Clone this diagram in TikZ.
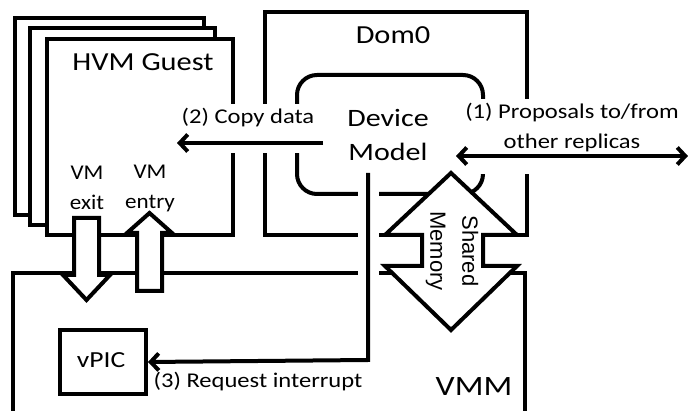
\documentclass[tikz,border=0pt]{standalone}
\usepackage{fontspec}
\setmainfont{Carlito}
\newfontfamily\arialf{Liberation Sans}
\usetikzlibrary{arrows.meta}
\begin{document}
\begin{tikzpicture}[x=1pt,y=-1pt,line width=4pt,line join=miter,
  box/.style={draw,fill=white,inner sep=0pt,anchor=north west},
  blockarrow/.style={draw,fill=white,line join=miter},
  halo/.style={draw=white,line cap=butt},
  tip/.tip={Straight Barb[length=8pt,width=17pt,line width=4pt]},
  barb/.style={-tip},
  dbarb/.style={tip-tip},
  big/.style={font=\fontsize{26}{30}\selectfont,inner sep=0pt,xscale=1.17},
  mid/.style={font=\fontsize{25}{34}\selectfont,align=center,inner sep=0pt,xscale=1.2},
  small/.style={font=\fontsize{21}{30}\selectfont,align=center,inner sep=0pt,xscale=1.17},
  whitelbl/.style={small,fill=white,inner sep=5pt}]
\useasboundingbox (0,0) rectangle (688,411);
\begin{scope}
\clip (0,0) rectangle (688,411);
% HVM guest stack
\node[box,minimum width=189,minimum height=197] (g3) at (13,16) {};
\node[box,minimum width=185,minimum height=197] (g2) at (28,26) {};
\node[box,minimum width=186,minimum height=196] (g1) at (45,37) {};
% Dom0
\node[box,fill=none,minimum width=262,minimum height=223] (dom0) at (263,10) {};
% Device model
\node[box,fill=none,rounded corners=20pt,minimum width=186,minimum height=119] (dm) at (295,73) {};
% VMM (open at the bottom)
\coordinate (vmmbl) at (13,430);
\coordinate (vmmtl) at (13,273);
\coordinate (vmmtr) at (525,273);
\coordinate (vmmbr) at (525,430);
\draw (vmmbl) -- (vmmtl) -- (vmmtr) -- (vmmbr);
% vPIC
\node[box,minimum width=86,minimum height=64] (vpic) at (58,328) {};
% gaps
\coordinate (h2a) at (190,141);
\coordinate (h2b) at (323,141);
\draw[halo,line width=24pt] (h2a) -- (h2b);
\coordinate (h3a) at (368,180);
\coordinate (h3b) at (368,292);
\draw[halo,line width=21pt] (h3a) -- (h3b);
\coordinate (h1a) at (470,156);
\coordinate (h1b) at (540,156);
\draw[halo,line width=36pt] (h1a) -- (h1b);
\node[whitelbl] (l2) at (248,118) {(2) Copy data};
\node[whitelbl] (l1) at (572,128) {(1) Proposals to/from\\other replicas};
% connectors
\coordinate (c2s) at (323,143);
\coordinate (c2e) at (177,143);
\draw[barb] (c2s) -- (c2e);
\coordinate (c1s) at (456,156);
\coordinate (c1e) at (688,156);
\draw[dbarb] (c1s) -- (c1e);
\coordinate (c3s) at (368,173);
\coordinate (c3m) at (368,360);
\draw[barb] (c3s) -- (c3m) -- (vpic.east);
% VM exit / entry block arrows
\draw[blockarrow] (74,218) -- (99,218) -- (99,275) -- (110,275) -- (86.5,300) -- (63,275) -- (74,275) -- cycle;
\draw[blockarrow] (137,291) -- (162,291) -- (162,233) -- (172,233) -- (149.5,213) -- (127,233) -- (137,233) -- cycle;
% shared memory
\draw[blockarrow] (451,173) -- (517,235) -- (483,235) -- (483,266) -- (517,266) -- (451,330) -- (385,266) -- (422,266) -- (422,235) -- (385,235) -- cycle;
\end{scope}
% texts
\node[big] (tdom0) at (393,35) {Dom0};
\node[big] (thvm) at (143,62) {HVM Guest};
\node[mid] (tdm) at (388,135) {Device\\Model};
\node[small,xscale=0.94] (texit) at (87,188) {VM\\exit};
\node[small,xscale=0.94] (tentry) at (150,188) {VM\\entry};
\node[font=\arialf\fontsize{22}{32}\selectfont,align=center,inner sep=0pt,rotate=-90] (tsm) at (452,251) {Shared\\Memory};
\node[font=\fontsize{23}{28}\selectfont,inner sep=0pt,xscale=1.2] (tvpic) at (101,360) {vPIC};
\node[small] (tl3) at (258,382) {(3) Request interrupt};
\node[font=\fontsize{28}{32}\selectfont,inner sep=0pt,xscale=1.2] (tvmm) at (474,387) {VMM};
\end{tikzpicture}
\end{document}
